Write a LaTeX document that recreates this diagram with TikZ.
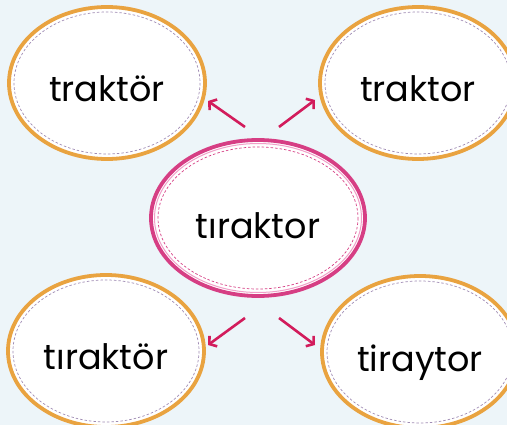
\documentclass[tikz,border=0pt]{standalone}
\usepackage{fontspec}
\setmainfont{Poppins}
\usepackage{tikz}
\usetikzlibrary{shapes.geometric,arrows.meta}
\definecolor{bgblue}{RGB}{237,245,249}
\definecolor{rimorange}{RGB}{233,163,64}
\definecolor{rimpink}{RGB}{214,62,132}
\definecolor{lightpink}{RGB}{240,160,200}
\definecolor{dashgrey}{RGB}{160,140,180}
\definecolor{arrowred}{RGB}{210,28,92}

\begin{document}
\begin{tikzpicture}[x=1pt,y=-1pt,
    word/.style={ellipse,draw=rimorange,line width=3.8pt,fill=white,inner sep=0pt,
        minimum width=196pt,minimum height=152pt,text height=38pt,text depth=0pt,
        font=\fontsize{35}{40}\selectfont},
    hub/.style={word,draw=rimpink,minimum width=214pt,minimum height=156pt,text height=42pt},
    stitch/.style={dashed,dash pattern=on 2.5pt off 2pt,line width=0.7pt},
    pointer/.style={draw=arrowred,line width=2.6pt,-{Straight Barb[length=5pt,width=13pt]}}]

        \fill[bgblue] (0,0) rectangle (507,425);
        \useasboundingbox (0,0) rectangle (507,425);
        \clip (0,0) rectangle (507,425);

        \node[word] (tl) at (107,83) {traktör};
        \node[word] (tr) at (418,83) {traktor};
        \node[hub] (mid) at (258,218) {tıraktor};
        \node[word] (bl) at (106,351) {tıraktör};
        \node[word] (br) at (420,352) {tiraytor};

        %stitches
        \foreach \n in {tl,tr,bl,br}
            \draw[stitch,dashgrey] (\n.center) ellipse [x radius=93, y radius=71];
        \draw[lightpink,line width=1pt] (mid.center) ellipse [x radius=103.5, y radius=74.5];
        \draw[stitch,rimpink] (mid.center) ellipse [x radius=100, y radius=71];

        \coordinate (tlfrom) at (245,127);
        \coordinate (tlto) at (208,101);
        \coordinate (trfrom) at (279,127);
        \coordinate (trto) at (315,100);
        \coordinate (blfrom) at (245,318);
        \coordinate (blto) at (208,345);
        \coordinate (brfrom) at (279,318);
        \coordinate (brto) at (315,345);

        \draw[pointer] (tlfrom) -- (tlto);
        \draw[pointer] (trfrom) -- (trto);
        \draw[pointer] (blfrom) -- (blto);
        \draw[pointer] (brfrom) -- (brto);
    \end{tikzpicture}
\end{document}
